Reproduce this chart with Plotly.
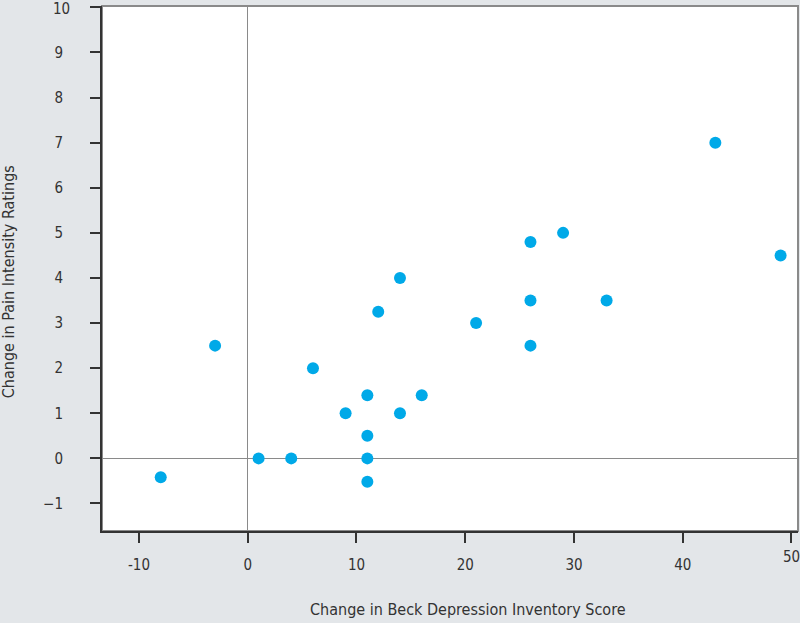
import plotly.graph_objects as go

beck_change = [-8, -3, 1, 4, 6, 9, 11, 11, 11, 11, 12, 14, 14, 16, 21, 26, 26, 26, 29, 33, 43, 49]
pain_change = [-0.42, 2.5, 0, 0, 2.0, 1.0, 1.4, 0.5, 0, -0.52, 3.25, 4.0, 1.0, 1.4, 3.0, 4.8, 3.5, 2.5, 5.0, 3.5, 7.0, 4.5]

x_ticks = [-10, 0, 10, 20, 30, 40, 50]
y_ticks = [-1, 0, 1, 2, 3, 4, 5, 6, 7, 8, 9, 10]

FONT = "DejaVu Sans Condensed, Liberation Sans Narrow, sans-serif"
BG = "#e3e6e9"
TXT = "#333333"
X_STANDOFF = 9
Y_STANDOFF = 24
TICKLEN = 10

# edge labels (would be dropped by plotly for overflowing the page) drawn as annotations
x_edge, y_edge = x_ticks[-1], y_ticks[-1]
x_text = ["" if v == x_edge else str(v) for v in x_ticks]
y_text = ["" if v == y_edge else ("\u22121" if v == -1 else str(v)) for v in y_ticks]

fig = go.Figure(go.Scatter(
    x=beck_change, y=pain_change, mode="markers",
    marker=dict(color="#00a9e8", size=12, line=dict(width=0)),
    hoverinfo="x+y", showlegend=False, cliponaxis=False,
))

fig.update_layout(
    width=800, height=623,
    margin=dict(l=102, r=2, t=6, b=92),
    paper_bgcolor=BG, plot_bgcolor="white",
    font=dict(family=FONT, size=15, color=TXT),
    xaxis=dict(
        range=[-13.4, 50.6], tickvals=x_ticks, ticktext=x_text,
        showgrid=False, zeroline=True, zerolinecolor="#8a8a8a", zerolinewidth=1,
        showline=True, linecolor=TXT, linewidth=2,
        ticks="outside", ticklen=TICKLEN, tickwidth=2, tickcolor=TXT,
        ticklabelstandoff=X_STANDOFF,
    ),
    yaxis=dict(
        range=[-1.61, 10.03], tickvals=y_ticks, ticktext=y_text,
        showgrid=False, zeroline=True, zerolinecolor="#8a8a8a", zerolinewidth=1,
        showline=True, linecolor=TXT, linewidth=2,
        ticks="outside", ticklen=TICKLEN, tickwidth=2, tickcolor=TXT,
        ticklabelstandoff=Y_STANDOFF,
    ),
    shapes=[dict(type="rect", xref="paper", yref="paper", x0=0, x1=1, y0=0, y1=1,
                 line=dict(color="#8a8a8a", width=2), layer="below")],
    annotations=[
        dict(text=str(x_edge), xref="x", yref="paper", x=x_edge, y=0,
             yanchor="top", xanchor="center", yshift=-(TICKLEN + X_STANDOFF - 4),
             showarrow=False, font=dict(size=15, family=FONT, color=TXT)),
        dict(text=str(y_edge), xref="paper", yref="y", x=0, y=y_edge,
             xanchor="right", yanchor="middle", xshift=-(TICKLEN + Y_STANDOFF - 4), yshift=-2,
             showarrow=False, font=dict(size=15, family=FONT, color=TXT)),
        dict(text="Change in Beck Depression Inventory Score", xref="paper", yref="paper",
             x=0.5265, y=-0.150, showarrow=False, font=dict(size=16, family=FONT, color=TXT),
             xanchor="center", yanchor="middle"),
        dict(text="Change in Pain Intensity Ratings", xref="paper", yref="paper",
             x=-0.135, y=0.474, showarrow=False, textangle=-90,
             font=dict(size=16, family=FONT, color=TXT),
             xanchor="center", yanchor="middle"),
    ],
)

fig.write_html("out.html", config={"displayModeBar": False},
               post_script="document.body.style.margin='0';document.body.style.overflow='hidden';")
